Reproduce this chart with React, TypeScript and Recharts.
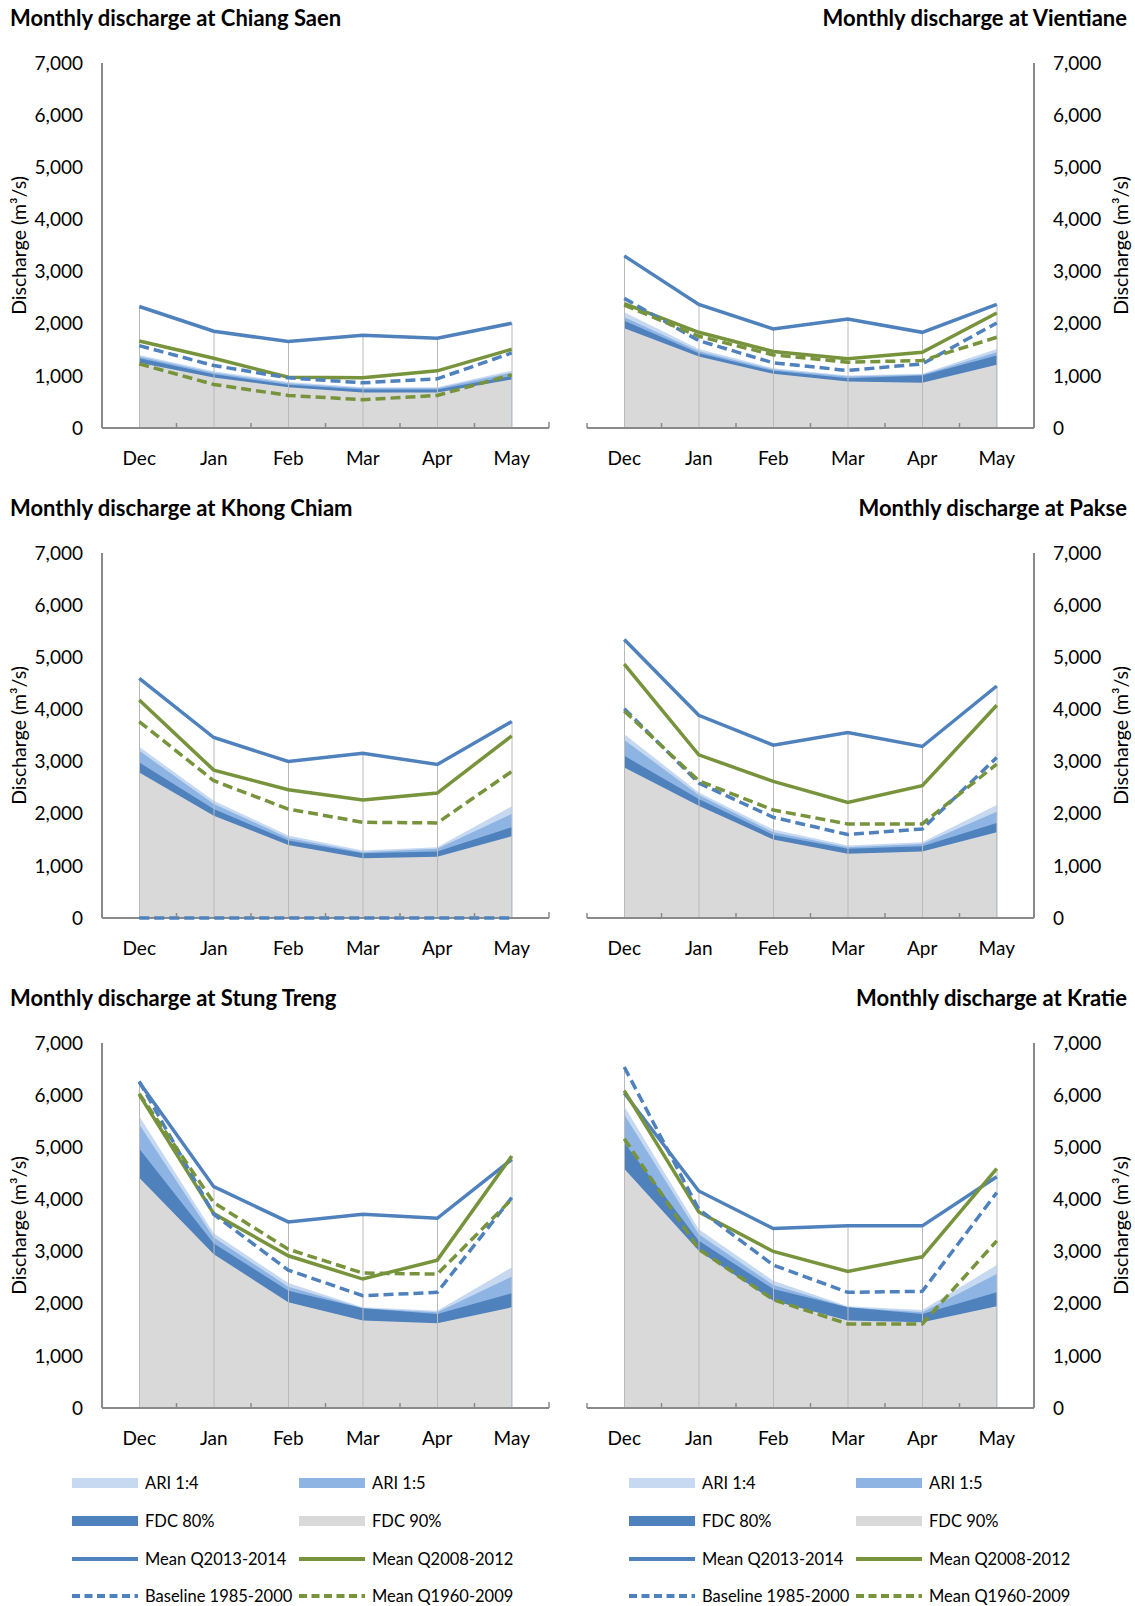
import React from 'react';
import { ComposedChart, Area, Line, Bar, XAxis, YAxis, Label } from 'recharts';

const months = ['Dec', 'Jan', 'Feb', 'Mar', 'Apr', 'May'];
const yTicks = [0, 1000, 2000, 3000, 4000, 5000, 6000, 7000];

// Chiang Saen
const csAri4 = [1400, 1090, 880, 780, 780, 1100];
const csAri5 = [1370, 1060, 860, 760, 760, 1060];
const csFdc80 = [1340, 1030, 830, 740, 740, 1000];
const csFdc90 = [1250, 970, 780, 680, 680, 930];
const csMean1314 = [2330, 1855, 1657, 1778, 1721, 2008];
const csMean0812 = [1670, 1338, 975, 962, 1096, 1510];
const csBase = [1580, 1198, 962, 867, 943, 1440];
const csMean6009 = [1230, 835, 625, 542, 625, 1020];

// Vientiane
const vtAri4 = [2218, 1517, 1147, 1007, 1039, 1517];
const vtAri5 = [2122, 1472, 1122, 988, 1020, 1453];
const vtFdc80 = [2059, 1434, 1096, 956, 1007, 1389];
const vtFdc90 = [1912, 1370, 1039, 892, 867, 1211];
const vtMean1314 = [3301, 2371, 1900, 2090, 1835, 2371];
const vtMean0812 = [2384, 1835, 1466, 1326, 1453, 2205];
const vtBase = [2486, 1676, 1249, 1103, 1230, 2014];
const vtMean6009 = [2358, 1759, 1402, 1262, 1294, 1740];

// Khong Chiam
const kcAri4 = [3282, 2250, 1581, 1294, 1358, 2141];
const kcAri5 = [3206, 2186, 1536, 1262, 1326, 1995];
const kcFdc80 = [2983, 2090, 1485, 1243, 1275, 1740];
const kcFdc90 = [2792, 1963, 1402, 1147, 1173, 1568];
const kcMean1314 = [4595, 3461, 3002, 3161, 2945, 3767];
const kcMean0812 = [4181, 2836, 2460, 2263, 2396, 3493];
const kcBase = [0, 0, 0, 0, 0, 0];
const kcMean6009 = [3767, 2632, 2090, 1835, 1823, 2811];

// Pakse
const pkAri4 = [3525, 2409, 1695, 1389, 1453, 2167];
const pkAri5 = [3416, 2358, 1644, 1358, 1421, 2040];
const pkFdc80 = [3110, 2282, 1593, 1326, 1377, 1823];
const pkFdc90 = [2887, 2154, 1504, 1230, 1275, 1644];
const pkMean1314 = [5341, 3888, 3314, 3556, 3289, 4449];
const pkMean0812 = [4869, 3129, 2620, 2218, 2537, 4079];
const pkBase = [4015, 2588, 1931, 1600, 1708, 3078];
const pkMean6009 = [3971, 2632, 2071, 1804, 1804, 2951];

// Stung Treng
const stAri4 = [5596, 3352, 2396, 1931, 1867, 2696];
const stAri5 = [5437, 3270, 2326, 1912, 1835, 2518];
const stFdc80 = [4971, 3155, 2250, 1912, 1804, 2199];
const stFdc90 = [4417, 2951, 2027, 1676, 1625, 1931];
const stMean1314 = [6246, 4245, 3569, 3716, 3639, 4767];
const stMean0812 = [6010, 3728, 2919, 2473, 2836, 4831];
const stBase = [6265, 3716, 2645, 2154, 2218, 4034];
const stMean6009 = [6029, 3939, 3046, 2588, 2568, 4003];

// Kratie
const krAri4 = [5787, 3429, 2441, 1950, 1880, 2741];
const krAri5 = [5628, 3333, 2358, 1931, 1835, 2568];
const krFdc80 = [5086, 3206, 2282, 1931, 1804, 2218];
const krFdc90 = [4589, 3015, 2059, 1676, 1644, 1950];
const krMean1314 = [6042, 4162, 3442, 3493, 3493, 4436];
const krMean0812 = [6087, 3760, 3002, 2620, 2900, 4589];
const krBase = [6539, 3811, 2741, 2218, 2237, 4130];
const krMean6009 = [5163, 3046, 2078, 1612, 1612, 3206];

const FONT = 'Lato, "Open Sans", sans-serif';
const AXIS = '#8a8a8a';
const C_ARI4 = '#c6d9f1';
const C_ARI5 = '#8db4e2';
const C_FDC80 = '#4f81bd';
const C_FDC90 = '#d9d9d9';
const C_BLUE = '#4f81bd';
const C_GREEN = '#77933c';
const C_DROP = '#bababa';
const DASH = '10 5';
const LW = 3.5;

function build(a4: number[], a5: number[], f80: number[], f90: number[], m1: number[], m2: number[], b: number[], m3: number[]) {
  return months.map((m, i) => ({
    month: m,
    ari4: a4[i],
    ari5: a5[i],
    fdc80: f80[i],
    fdc90: f90[i],
    mean1314: m1[i],
    mean0812: m2[i],
    base: b[i],
    mean6009: m3[i],
    drop: Math.max(a4[i], a5[i], f80[i], f90[i], m1[i], m2[i], b[i], m3[i]),
  }));
}

const stations = [
  { title: 'Monthly discharge at Chiang Saen', side: 'left', data: build(csAri4, csAri5, csFdc80, csFdc90, csMean1314, csMean0812, csBase, csMean6009) },
  { title: 'Monthly discharge at Vientiane', side: 'right', data: build(vtAri4, vtAri5, vtFdc80, vtFdc90, vtMean1314, vtMean0812, vtBase, vtMean6009) },
  { title: 'Monthly discharge at Khong Chiam', side: 'left', data: build(kcAri4, kcAri5, kcFdc80, kcFdc90, kcMean1314, kcMean0812, kcBase, kcMean6009) },
  { title: 'Monthly discharge at Pakse', side: 'right', data: build(pkAri4, pkAri5, pkFdc80, pkFdc90, pkMean1314, pkMean0812, pkBase, pkMean6009) },
  { title: 'Monthly discharge at Stung Treng', side: 'left', data: build(stAri4, stAri5, stFdc80, stFdc90, stMean1314, stMean0812, stBase, stMean6009) },
  { title: 'Monthly discharge at Kratie', side: 'right', data: build(krAri4, krAri5, krFdc80, krFdc90, krMean1314, krMean0812, krBase, krMean6009) },
];

const XTick = (props: any) => {
  const { x, y, payload, index } = props;
  const off = payload && payload.offset ? payload.offset : 0;
  return (
    <g>
      <line x1={x - off} x2={x - off} y1={y} y2={y - 5} stroke={AXIS} strokeWidth={1.5} />
      {index === months.length - 1 ? (
        <line x1={x + off} x2={x + off} y1={y} y2={y - 6} stroke={AXIS} strokeWidth={1.5} />
      ) : null}
      <text x={x} y={y + 29} textAnchor="middle" dominantBaseline="central" fontSize={19} fontFamily={FONT} fill="#000">
        {payload.value}
      </text>
    </g>
  );
};

const fmt = (v: number) => v.toLocaleString('en-US');

function StationChart({ st }: { st: any }) {
  const isLeft = st.side === 'left';
  const margin = isLeft ? { top: 63, right: 11, bottom: 12, left: 0 } : { top: 63, right: 0, bottom: 12, left: 12 };
  const yLabel = (p: any) => {
    const vb = p.viewBox || {};
    const cx = isLeft ? vb.x + 18.5 : vb.x + vb.width - 15;
    const cy = vb.y + vb.height / 2;
    return (
      <text x={cx} y={cy} transform={`rotate(-90 ${cx} ${cy})`} textAnchor="middle" dominantBaseline="central" fontSize={19.5} fontFamily={FONT} fill="#000">
        Discharge (m³/s)
      </text>
    );
  };
  const lineProps: any = { type: 'linear', strokeWidth: LW, dot: false, activeDot: false, isAnimationActive: false, zIndex: 600 };
  return (
    <ComposedChart width={560} height={470} data={st.data} margin={margin}>
      <XAxis dataKey="month" axisLine={{ stroke: AXIS, strokeWidth: 2 }} tickLine={false} tickSize={0} tickMargin={0} height={30} tick={<XTick />} interval={0} />
      <YAxis
        orientation={isLeft ? 'left' : 'right'}
        width={isLeft ? 102 : 101}
        domain={[0, 7000]}
        ticks={yTicks}
        tickFormatter={fmt}
        axisLine={{ stroke: AXIS, strokeWidth: 2 }}
        tickLine={false}
        tickSize={0}
        tickMargin={19}
        tick={{ fontSize: 19, fontFamily: FONT, fill: '#000' }}
        interval={0}
      >
        <Label content={yLabel} />
      </YAxis>
      <Area type="linear" dataKey="ari4" stroke="none" fill={C_ARI4} fillOpacity={1} dot={false} activeDot={false} isAnimationActive={false} />
      <Area type="linear" dataKey="ari5" stroke="none" fill={C_ARI5} fillOpacity={1} dot={false} activeDot={false} isAnimationActive={false} />
      <Area type="linear" dataKey="fdc80" stroke="none" fill={C_FDC80} fillOpacity={1} dot={false} activeDot={false} isAnimationActive={false} />
      <Area type="linear" dataKey="fdc90" stroke="none" fill={C_FDC90} fillOpacity={1} dot={false} activeDot={false} isAnimationActive={false} />
      <Bar dataKey="drop" barSize={1} fill={C_DROP} isAnimationActive={false} />
      <Line {...lineProps} dataKey="mean1314" stroke={C_BLUE} />
      <Line {...lineProps} dataKey="mean0812" stroke={C_GREEN} />
      <Line {...lineProps} dataKey="base" stroke={C_BLUE} strokeDasharray={DASH} />
      <Line {...lineProps} dataKey="mean6009" stroke={C_GREEN} strokeDasharray={DASH} />
    </ComposedChart>
  );
}

const legendItems = [
  { label: 'ARI 1:4', kind: 'area', color: C_ARI4 },
  { label: 'ARI 1:5', kind: 'area', color: C_ARI5 },
  { label: 'FDC 80%', kind: 'area', color: C_FDC80 },
  { label: 'FDC 90%', kind: 'area', color: C_FDC90 },
  { label: 'Mean Q2013-2014', kind: 'line', color: C_BLUE },
  { label: 'Mean Q2008-2012', kind: 'line', color: C_GREEN },
  { label: 'Baseline 1985-2000', kind: 'dash', color: C_BLUE },
  { label: 'Mean Q1960-2009', kind: 'dash', color: C_GREEN },
];

function Swatch({ kind, color }: { kind: string; color: string }) {
  return (
    <svg width={66} height={12} style={{ display: 'block' }}>
      {kind === 'area' ? <rect x={0} y={1} width={66} height={10} fill={color} /> : null}
      {kind === 'line' ? <line x1={0} x2={66} y1={6} y2={6} stroke={color} strokeWidth={4} /> : null}
      {kind === 'dash' ? <line x1={0} x2={66} y1={6} y2={6} stroke={color} strokeWidth={4} strokeDasharray="8 4.5" /> : null}
    </svg>
  );
}

function LegendBlock({ colX }: { colX: number[] }) {
  const rowsY = [1483, 1521, 1559, 1596];
  return (
    <>
      {legendItems.map((it, i) => {
        const row = Math.floor(i / 2);
        const col = i % 2;
        const x = colX[col];
        const cy = rowsY[row];
        return (
          <div key={it.label} style={{ position: 'absolute', left: x, top: cy - 12, height: 24, display: 'flex', alignItems: 'center' }}>
            <Swatch kind={it.kind} color={it.color} />
            <span style={{ marginLeft: 7, fontSize: 16.5, fontFamily: FONT, color: '#000', whiteSpace: 'nowrap', lineHeight: '24px' }}>{it.label}</span>
          </div>
        );
      })}
    </>
  );
}

export default function App() {
  return (
    <div style={{ position: 'absolute', left: 0, top: 0, width: 1135, height: 1606, background: '#fff', overflow: 'hidden', fontFamily: FONT }}>
      {stations.map((st, i) => {
        const row = Math.floor(i / 2);
        const isLeft = st.side === 'left';
        const top = row * 490;
        return (
          <React.Fragment key={st.title}>
            <div style={{ position: 'absolute', left: isLeft ? 0 : 575, top }}>
              <StationChart st={st} />
            </div>
            <div
              style={{
                position: 'absolute',
                top: top + 5,
                height: 26,
                lineHeight: '26px',
                fontSize: 22,
                fontWeight: 700,
                fontFamily: FONT,
                color: '#000',
                whiteSpace: 'nowrap',
                ...(isLeft ? { left: 10 } : { right: 8, textAlign: 'right' as const }),
              }}
            >
              {st.title}
            </div>
          </React.Fragment>
        );
      })}
      <LegendBlock colX={[72, 299]} />
      <LegendBlock colX={[629, 856]} />
    </div>
  );
}
